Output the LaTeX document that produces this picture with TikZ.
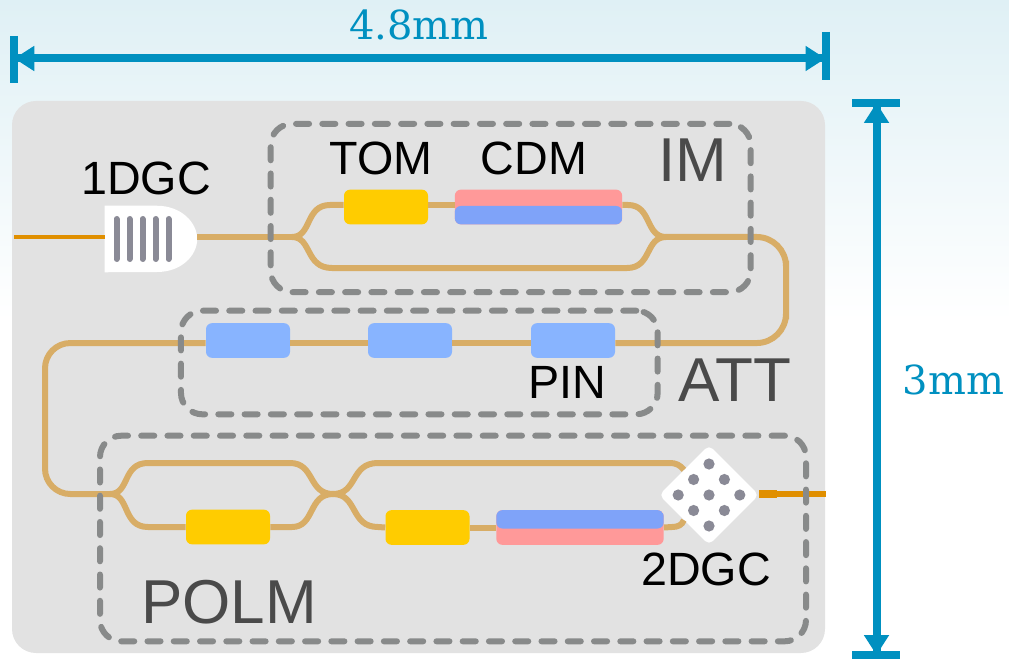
\documentclass[tikz,border=0pt]{standalone}
\usepackage{xcolor}
\usepackage{fontspec}
\usepackage{tikz}
\usetikzlibrary{arrows.meta,positioning,shapes.geometric}
\setmainfont{Liberation Sans}
\newfontfamily\dimfont{DejaVu Serif}
\definecolor{dimblue}{HTML}{0090C0}
\definecolor{skytop}{HTML}{DFF0F5}
\definecolor{wirecol}{HTML}{D8AD66}
\definecolor{fibercol}{HTML}{E08F00}
\definecolor{chipgray}{HTML}{E2E2E2}
\definecolor{dashgray}{HTML}{888A8A}
\definecolor{tomyellow}{HTML}{FFCC00}
\definecolor{pinblue}{HTML}{88B4FF}
\definecolor{cdmblue}{HTML}{7FA3F9}
\definecolor{cdmpink}{HTML}{FF9999}
\definecolor{gcgray}{HTML}{8A8A96}
\definecolor{biggray}{HTML}{4A4A4A}
\tikzset{
  device/.style={rounded corners=4.5pt, inner sep=0pt, minimum width=63pt, minimum height=26pt},
  tombox/.style={device, fill=tomyellow},
  pinbox/.style={device, fill=pinblue},
  cdmbox/.style={device, fill=cdmpink, minimum width=125.5pt},
  groupbox/.style={draw=dashgray, line width=4.5pt, line cap=round, rounded corners=16pt,
    dash pattern=on 9.8pt off 9.9pt, inner sep=0pt},
  wave/.style={draw=wirecol, line width=4.5pt},
  fiber/.style={draw=fibercol, line width=3pt},
  dimline/.style={draw=dimblue, line width=6pt},
  dimarrow/.style={dimline, -{Triangle[length=15pt,width=18pt]}},
  smalltext/.style={font=\fontsize{35}{35}\selectfont, text=black, inner sep=0pt},
  bigtext/.style={font=\fontsize{46.5}{46.5}\selectfont, text=biggray, inner sep=0pt},
  dimtext/.style={font=\dimfont\fontsize{30}{30}\selectfont, text=dimblue, inner sep=0pt}
}
\begin{document}
\begin{tikzpicture}[x=0.75pt, y=-0.75pt]
  \useasboundingbox (0,0) rectangle (1009,659);
  % Backdrop and chip
  \shade[top color=skytop, bottom color=white] (0,0) rectangle (1009,320);
  \fill[chipgray, rounded corners=18pt] (12,101) rectangle (825,653);

  % Devices
  \node[tombox] (tomim) at (386,207) {};
  \node[cdmbox, path picture={\fill[cdmblue] ([yshift=0.75pt]path picture bounding box.west)
    rectangle (path picture bounding box.south east);}] (cdmim) at (538.5,207) {};
  \node[pinbox] (pina) at (248,340.5) {};
  \node[pinbox] (pinb) at (410,340.5) {};
  \node[pinbox] (pinc) at (573,340.5) {};
  \node[tombox] (tomup) at (228,527) {};
  \node[tombox] (tomlo) at (427.5,527.5) {};
  \node[cdmbox, path picture={\fill[cdmblue] (path picture bounding box.north west)
    rectangle ([yshift=-0.75pt]path picture bounding box.east);}] (cdmpol) at (580,527.5) {};

  % 1D grating coupler
  \node[minimum width=69pt, minimum height=49.5pt, inner sep=0pt] (gca) at (151,239) {};
  \fill[white] (gca.north west) -- ++(52,0) .. controls ++(24,0) and (197,222) .. (gca.east)
    .. controls (197,256) and (181,272) .. (157,272) -- (gca.south west) -- cycle;
  \foreach \x in {116.5,129.5,142.5,155.5,168.5}
    \draw[gcgray, line width=4.5pt, line cap=round] (\x,219) -- (\x,259);

  % 2D grating coupler
  \node[diamond, aspect=1, fill=white, rounded corners=4pt, inner sep=0pt,
        minimum width=75pt, minimum height=75pt] (gcb) at (709,495) {};
  \foreach \i in {-1,0,1}
    \foreach \j in {-1,0,1}
      \fill[gcgray] ([shift={({(\i+\j)*15.4},{(\i-\j)*15.5})}]gcb.center) circle (4.2pt);

  % Junctions and bends
  \coordinate (splitim) at (292,237);
  \coordinate (joinim) at (666,237);
  \coordinate (turnr) at (786,290);
  \coordinate (turnl) at (45,420);
  \coordinate (splitpol) at (110,494);
  \coordinate (cross) at (333,494);
  \coordinate (fiberin) at (14,237);
  \coordinate (fiberout) at (826,494);
  \coordinate (stub) at (777,494);

  % Waveguides
  \draw[fiber] (fiberin) -- (gca.west |- fiberin);
  \draw[wave] (gca.east |- splitim) -- (splitim);
  \draw[wave] (splitim) .. controls (312,237) and (305,205) .. (330,205)
    -- ([yshift=1.5pt]tomim.west);
  \draw[wave] (splitim) .. controls (312,237) and (305,268) .. (332,268) -- (627,268)
    .. controls (652,268) and (645,237) .. (joinim);
  \draw[wave] ([yshift=1.5pt]tomim.east) -- ([yshift=1.5pt]cdmim.west);
  \draw[wave] ([yshift=1.5pt]cdmim.east) -- (628,205)
    .. controls (652,205) and (645,237) .. (joinim);
  \draw[wave, rounded corners=22pt] (joinim) -| (turnr) |- ([yshift=-1.9pt]pinc.east);
  \draw[wave] ([yshift=-1.9pt]pinc.west) -- ([yshift=-1.9pt]pinb.east);
  \draw[wave] ([yshift=-1.9pt]pinb.west) -- ([yshift=-1.9pt]pina.east);
  \draw[wave, rounded corners=19pt] ([yshift=-1.9pt]pina.west) -| (turnl) |- (splitpol);
  \draw[wave] (splitpol) .. controls (130,494) and (122,463) .. (148,463) -- (290,463)
    .. controls (315,463) and (308,494) .. (cross);
  \draw[wave] (splitpol) .. controls (130,494) and (122,527) .. (148,527) -- (tomup.west);
  \draw[wave] (tomup.east) -- (292,527) .. controls (315,527) and (308,494) .. (cross);
  \draw[wave] (cross) .. controls (358,494) and (350,463) .. (378,463) -- (670,463)
    .. controls (676,463) and (680,465) .. (gcb.north west);
  \draw[wave] (cross) .. controls (358,494) and (350,527) .. (378,527) -- (tomlo.west);
  \draw[wave] (tomlo.east) -- (cdmpol.west);
  \draw[wave] (cdmpol.east) -- (672,527) .. controls (678,527) and (682,525) .. (gcb.south west);
  \draw[fiber, line width=4.5pt] (gcb.east |- fiberout) -- (fiberout);
  \draw[fiber, line width=6pt] (gcb.east |- stub) -- (stub);

  % Dashed groups
  \node[groupbox, minimum width=360pt, minimum height=126.2pt] (imgroup) at (510.7,208) {};
  \node[groupbox, minimum width=357.5pt, minimum height=77.7pt] (attgroup) at (419.3,362.5) {};
  \node[groupbox, minimum width=529.5pt, minimum height=154.2pt] (polgroup) at (453,538.5) {};

  % Labels
  \node[smalltext] (gcalabel) at (146,178) {1DGC};
  \node[smalltext] (tomlabel) at (381,158) {TOM};
  \node[smalltext] (cdmlabel) at (534,158) {CDM};
  \node[smalltext] (pinlabel) at (567,382) {PIN};
  \node[smalltext] (gcblabel) at (706,569) {2DGC};
  \node[bigtext] (imlabel) at (693,160.5) {IM};
  \node[bigtext] (attlabel) at (735,380.5) {ATT};
  \node[bigtext] (pollabel) at (229,601.7) {POLM};

  % Dimensions
  \coordinate (hleft) at (14.3,58.5);
  \coordinate (hright) at (825.5,58.5);
  \coordinate (vtop) at (876.5,103);
  \coordinate (vbot) at (876.5,655);
  \draw[dimline] (14.3,36) -- (14.3,83);
  \draw[dimline] (825.5,32) -- (825.5,80);
  \draw[dimline] (852.3,103) -- (900,103);
  \draw[dimline] (852.3,655) -- (900,655);
  \draw[dimarrow] (hleft) -- (hright);
  \draw[dimarrow] (hright) -- (hleft);
  \draw[dimarrow] (vtop) -- (vbot);
  \draw[dimarrow] (vbot) -- (vtop);
  \node[dimtext] (widthlabel) at (419,25) {4.8mm};
  \node[dimtext] (heightlabel) at (953.5,380) {3mm};
\end{tikzpicture}
\end{document}
